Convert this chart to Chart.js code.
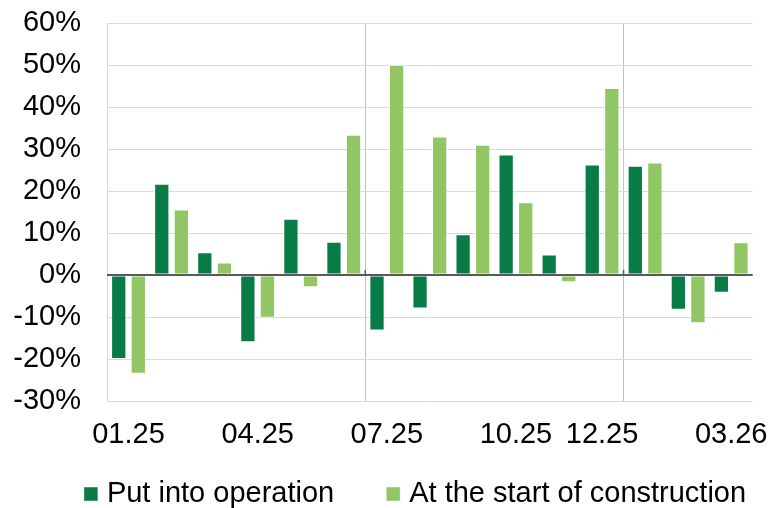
<!DOCTYPE html>
<html>
<head>
<meta charset="utf-8">
<script src="https://cdn.jsdelivr.net/npm/chart.js@4/dist/chart.umd.min.js"></script>
<style>
    html, body { margin: 0; padding: 0; background: #ffffff; }
    #wrap { width: 771px; height: 508px; position: relative; }
</style>
</head>
<body>
<div id="wrap"><canvas id="chart"></canvas></div>
<script>
const categories = ['01.25', '02.25', '03.25', '04.25', '05.25', '06.25', '07.25', '08.25',
    '09.25', '10.25', '11.25', '12.25', '01.26', '02.26', '03.26'];
const tickLabels = ['01.25', '04.25', '07.25', '10.25', '12.25', '03.26'];
const putIntoOperation = [-20, 21.7, 5.4, -16, 13.4, 7.9, -13.2, -8, 9.7, 28.7, 4.9, 26.3, 26, -8.3, -4.2];
const startOfConstruction = [-23.5, 15.6, 3, -10.2, -2.9, 33.4, 50, 33, 31, 17.3, -1.7, 44.5, 26.8, -11.5, 7.8];
const dividerIndexes = [6, 12];

Chart.defaults.font.family = 'Liberation Sans, Arial, sans-serif';
Chart.defaults.font.size = 29;
Chart.defaults.color = '#000000';

// zero axis line drawn over the bars, with small tick marks at the dividers
const zeroLine = {
    id: 'zeroLine',
    afterDatasetsDraw(chart) {
        const { ctx, chartArea, scales } = chart;
        const y0 = scales.y.getPixelForValue(0);
        ctx.save();
        ctx.strokeStyle = '#595959';
        ctx.lineWidth = 2;
        ctx.beginPath();
        ctx.moveTo(chartArea.left, y0);
        ctx.lineTo(chartArea.right, y0);
        ctx.stroke();
        ctx.lineWidth = 1.5;
        dividerIndexes.forEach(i => {
            const x = (scales.x.getPixelForValue(i - 1) + scales.x.getPixelForValue(i)) / 2;
            ctx.beginPath();
            ctx.moveTo(x, y0);
            ctx.lineTo(x, y0 - 5);
            ctx.stroke();
        });
        ctx.restore();
    }
};

new Chart(document.getElementById('chart').getContext('2d'), {
    type: 'bar',
    data: {
        labels: categories,
        datasets: [{
            label: 'Put into operation',
            data: putIntoOperation,
            backgroundColor: '#087c45',
            borderColor: 'rgba(255,255,255,0.45)',
            borderWidth: 1,
            borderSkipped: false,
            categoryPercentage: 0.91,
            barPercentage: 0.78
        }, {
            label: 'At the start of construction',
            data: startOfConstruction,
            backgroundColor: '#92c563',
            borderColor: 'rgba(255,255,255,0.45)',
            borderWidth: 1,
            borderSkipped: false,
            categoryPercentage: 0.91,
            barPercentage: 0.78
        }]
    },
    options: {
        responsive: true,
        maintainAspectRatio: false,
        animation: false,
        layout: {
            padding: { left: 10, right: -54.5, top: 23, bottom: -10.5 }
        },
        plugins: {
            tooltip: { enabled: false },
            legend: {
                display: true,
                position: 'bottom',
                labels: {
                    usePointStyle: true,
                    pointStyle: 'rect',
                    boxWidth: 3,
                    boxHeight: 14,
                    padding: 57.5,
                    font: { size: 29 },
                    color: '#000000'
                }
            }
        },
        scales: {
            x: {
                grid: {
                    drawTicks: false,
                    lineWidth: 1,
                    color: ctx => dividerIndexes.includes(ctx.index) ? '#c3c3c3' : 'rgba(0,0,0,0)'
                },
                border: { display: false },
                ticks: {
                    autoSkip: false,
                    maxRotation: 0,
                    mirror: true,
                    padding: -51.4,
                    callback: (value, index) => tickLabels.includes(categories[index]) ? categories[index] : ''
                },
                afterFit: scale => { scale.height = 21; }
            },
            y: {
                min: -30,
                max: 60,
                grid: { drawTicks: true, tickLength: 26, tickColor: 'rgba(0,0,0,0)', color: '#dadada', lineWidth: 1 },
                border: { display: true, color: '#dadada', width: 1 },
                ticks: {
                    stepSize: 10,
                    padding: 0,
                    callback: v => v + '%'
                },
                afterFit: scale => { scale.width = 97; }
            },
            // empty axis that only reserves the right margin
            yRight: {
                position: 'right',
                display: true,
                grid: { display: false },
                border: { display: false },
                ticks: { display: false },
                afterFit: scale => { scale.width = 72.8; }
            }
        }
    },
    plugins: [zeroLine]
});
</script>
</body>
</html>
